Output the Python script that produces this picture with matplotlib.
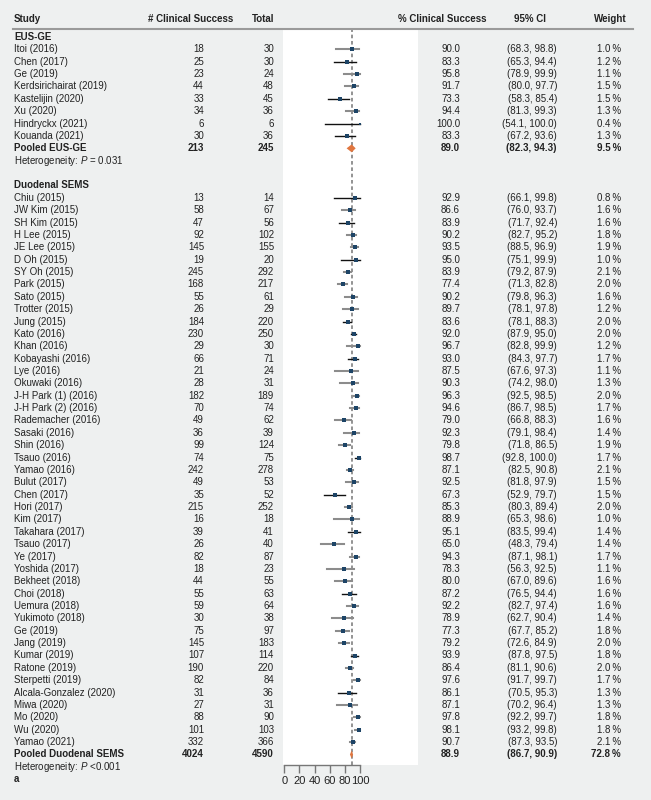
import numpy as np
import matplotlib
matplotlib.use("Agg")
import matplotlib.pyplot as plt

plt.rcParams['font.family'] = ['Liberation Sans', 'DejaVu Sans']
plt.rcParams['mathtext.fontset'] = 'custom'
plt.rcParams['mathtext.rm'] = 'Liberation Sans'
plt.rcParams['mathtext.it'] = 'Liberation Sans:italic'

# ── Data ─────────────────────────────────────────────────────
eus_study = ["Itoi (2016)", "Chen (2017)", "Ge (2019)", "Kerdsirichairat (2019)",
             "Kastelijin (2020)", "Xu (2020)", "Hindryckx (2021)", "Kouanda (2021)"]
eus_success = [18, 25, 23, 44, 33, 34, 6, 30]
eus_total = [30, 30, 24, 48, 45, 36, 6, 36]
eus_pct = [90.0, 83.3, 95.8, 91.7, 73.3, 94.4, 100.0, 83.3]
eus_lo = [68.3, 65.3, 78.9, 80.0, 58.3, 81.3, 54.1, 67.2]
eus_hi = [98.8, 94.4, 99.9, 97.7, 85.4, 99.3, 100.0, 93.6]
eus_weight = [1.0, 1.2, 1.1, 1.5, 1.5, 1.3, 0.4, 1.3]
eus_pooled = (213, 245, 89.0, 82.3, 94.3, 9.5)
eus_het = "Heterogeneity: $P$ = 0.031"

sems_study = ["Chiu (2015)", "JW Kim (2015)", "SH Kim (2015)", "H Lee (2015)", "JE Lee (2015)",
              "D Oh (2015)", "SY Oh (2015)", "Park (2015)", "Sato (2015)", "Trotter (2015)",
              "Jung (2015)", "Kato (2016)", "Khan (2016)", "Kobayashi (2016)", "Lye (2016)",
              "Okuwaki (2016)", "J-H Park (1) (2016)", "J-H Park (2) (2016)", "Rademacher (2016)",
              "Sasaki (2016)", "Shin (2016)", "Tsauo (2016)", "Yamao (2016)", "Bulut (2017)",
              "Chen (2017)", "Hori (2017)", "Kim (2017)", "Takahara (2017)", "Tsauo (2017)",
              "Ye (2017)", "Yoshida (2017)", "Bekheet (2018)", "Choi (2018)", "Uemura (2018)",
              "Yukimoto (2018)", "Ge (2019)", "Jang (2019)", "Kumar (2019)", "Ratone (2019)",
              "Sterpetti (2019)", "Alcala-Gonzalez (2020)", "Miwa (2020)", "Mo (2020)",
              "Wu (2020)", "Yamao (2021)"]
sems_success = [13, 58, 47, 92, 145, 19, 245, 168, 55, 26, 184, 230, 29, 66, 21, 28, 182, 70, 49,
                36, 99, 74, 242, 49, 35, 215, 16, 39, 26, 82, 18, 44, 55, 59, 30, 75, 145, 107,
                190, 82, 31, 27, 88, 101, 332]
sems_total = [14, 67, 56, 102, 155, 20, 292, 217, 61, 29, 220, 250, 30, 71, 24, 31, 189, 74, 62,
              39, 124, 75, 278, 53, 52, 252, 18, 41, 40, 87, 23, 55, 63, 64, 38, 97, 183, 114,
              220, 84, 36, 31, 90, 103, 366]
sems_pct = [92.9, 86.6, 83.9, 90.2, 93.5, 95.0, 83.9, 77.4, 90.2, 89.7, 83.6, 92.0, 96.7, 93.0,
            87.5, 90.3, 96.3, 94.6, 79.0, 92.3, 79.8, 98.7, 87.1, 92.5, 67.3, 85.3, 88.9, 95.1,
            65.0, 94.3, 78.3, 80.0, 87.2, 92.2, 78.9, 77.3, 79.2, 93.9, 86.4, 97.6, 86.1, 87.1,
            97.8, 98.1, 90.7]
sems_lo = [66.1, 76.0, 71.7, 82.7, 88.5, 75.1, 79.2, 71.3, 79.8, 78.1, 78.1, 87.9, 82.8, 84.3,
           67.6, 74.2, 92.5, 86.7, 66.8, 79.1, 71.8, 92.8, 82.5, 81.8, 52.9, 80.3, 65.3, 83.5,
           48.3, 87.1, 56.3, 67.0, 76.5, 82.7, 62.7, 67.7, 72.6, 87.8, 81.1, 91.7, 70.5, 70.2,
           92.2, 93.2, 87.3]
sems_hi = [99.8, 93.7, 92.4, 95.2, 96.9, 99.9, 87.9, 82.8, 96.3, 97.8, 88.3, 95.0, 99.9, 97.7,
           97.3, 98.0, 98.5, 98.5, 88.3, 98.4, 86.5, 100.0, 90.8, 97.9, 79.7, 89.4, 98.6, 99.4,
           79.4, 98.1, 92.5, 89.6, 94.4, 97.4, 90.4, 85.2, 84.9, 97.5, 90.6, 99.7, 95.3, 96.4,
           99.7, 99.8, 93.5]
sems_weight = [0.8, 1.6, 1.6, 1.8, 1.9, 1.0, 2.1, 2.0, 1.6, 1.2, 2.0, 2.0, 1.2, 1.7, 1.1, 1.3,
               2.0, 1.7, 1.6, 1.4, 1.9, 1.7, 2.1, 1.5, 1.5, 2.0, 1.0, 1.4, 1.4, 1.7, 1.1, 1.6,
               1.6, 1.6, 1.4, 1.8, 2.0, 1.8, 2.0, 1.7, 1.3, 1.3, 1.8, 1.8, 2.1]
sems_pooled = (4024, 4590, 88.9, 86.7, 90.9, 72.8)
sems_het = "Heterogeneity: $P$ <0.001"

ref_line = 88.9
ticks = [0, 20, 40, 60, 80, 100]

# CI lines drawn in black for these studies, the rest grey
dark_eus = {"Chen (2017)", "Kastelijin (2020)", "Hindryckx (2021)", "Kouanda (2021)"}
dark_sems = {"Chiu (2015)", "SH Kim (2015)", "D Oh (2015)", "Jung (2015)", "Kato (2016)",
             "Kobayashi (2016)", "Tsauo (2016)", "Chen (2017)", "Takahara (2017)",
             "Choi (2018)", "Kumar (2019)", "Alcala-Gonzalez (2020)"}

# ── Layout (pixels / row units) ─────────────────────────────
W, H = 651, 800
ROW0, DY = 37.0, 12.37          # pixel y of row 0 and row pitch
BG = "#eef0f0"
TXT = "#222222"
FS = 7.0
X_STUDY, X_SUCC, X_TOT, X_PCT, X_CI, X_WT = 14, 204, 274, 460, 557, 621


def row_of(py):
    return (py - ROW0) / DY


fig = plt.figure(figsize=(W / 100, H / 100), dpi=100, facecolor=BG)

# forest panel
px_left, px_right, px_top, px_bot = 283, 418, 29, 765
x0_px, x100_px = 284.3, 360.0
scale = (x100_px - x0_px) / 100
ax = fig.add_axes([px_left / W, 1 - px_bot / H, (px_right - px_left) / W, (px_bot - px_top) / H])
ax.set_facecolor("white")
ax.set_xlim((px_left - x0_px) / scale, (px_right - x0_px) / scale)
ax.set_ylim(row_of(px_bot), row_of(px_top))
for s in ["top", "right", "left"]:
    ax.spines[s].set_visible(False)
ax.spines["bottom"].set_bounds(0, 100)
ax.spines["bottom"].set_color("#777777")
ax.spines["bottom"].set_linewidth(1.0)
ax.set_yticks([])
ax.set_xticks(ticks)
ax.tick_params(axis="x", direction="out", length=6, width=1.0, color="#777777",
               labelsize=8, labelcolor=TXT, pad=2)

ax.axvline(ref_line, color="#8a8a8a", linestyle=(0, (2, 1.5)), linewidth=1.3, zorder=1)

# text layer
tx = fig.add_axes([0, 0, 1, 1], facecolor="none")
tx.set_xlim(0, W)
tx.set_ylim(row_of(H), row_of(0))
tx.axis("off")


def put(x, r, s, ha="left", bold=False):
    tx.text(x, r, s, ha=ha, va="center", fontsize=FS, color=TXT,
            fontweight="bold" if bold else "normal")


# header
hr = row_of(19.5)
put(X_STUDY, hr, "Study", bold=True)
put(233, hr, "# Clinical Success", ha="right", bold=True)
put(X_TOT, hr, "Total", ha="right", bold=True)
put(486, hr, "% Clinical Success", ha="right", bold=True)
put(529.5, hr, "95% CI", ha="center", bold=True)
put(627, hr, "Weight", ha="right", bold=True)
tx.plot([13, 633], [row_of(28.5)] * 2, color="#9a9a9a", linewidth=1.5)


def draw_group(r0, title, study, succ, tot, pct, lo, hi, wt, pooled, het, dark):
    put(X_STUDY, r0, title, bold=True)
    for i, name in enumerate(study):
        r = r0 + 1 + i
        put(X_STUDY, r, name)
        put(X_SUCC, r, str(succ[i]), ha="right")
        put(X_TOT, r, str(tot[i]), ha="right")
        put(X_PCT, r, f"{pct[i]:.1f}", ha="right")
        put(X_CI, r, f"({lo[i]:.1f}, {hi[i]:.1f})", ha="right")
        put(X_WT, r, f"{wt[i]:.1f}\u2009%", ha="right")
        if name in dark:
            ax.plot([lo[i], hi[i]], [r, r], color="#111111", linewidth=1.0, zorder=2)
        else:
            ax.plot([lo[i], hi[i]], [r, r], color="#8c8c8c", linewidth=1.5, zorder=2)
        ax.plot(pct[i], r, marker="s", color="#1d4466", markersize=1.3 + 1.0 * np.sqrt(wt[i]),
                markeredgewidth=0, zorder=3)
    rp = r0 + 1 + len(study)
    ps, pt, pp, plo, phi, pw = pooled
    put(X_STUDY, rp, f"Pooled {title}", bold=True)
    put(X_SUCC, rp, str(ps), ha="right", bold=True)
    put(X_TOT, rp, str(pt), ha="right", bold=True)
    put(X_PCT, rp, f"{pp:.1f}", ha="right", bold=True)
    put(X_CI, rp, f"({plo:.1f}, {phi:.1f})", ha="right", bold=True)
    put(X_WT, rp, f"{pw:.1f}\u2009%", ha="right", bold=True)
    ax.fill([plo, pp, phi, pp], [rp, rp - 0.32, rp, rp + 0.32], color="#e0763f",
            linewidth=0, zorder=4)
    put(X_STUDY, rp + 1, het)
    return rp + 1


end = draw_group(0, "EUS-GE", eus_study, eus_success, eus_total, eus_pct, eus_lo, eus_hi,
                 eus_weight, eus_pooled, eus_het, dark_eus)
end = draw_group(end + 2, "Duodenal SEMS", sems_study, sems_success, sems_total, sems_pct,
                 sems_lo, sems_hi, sems_weight, sems_pooled, sems_het, dark_sems)
put(X_STUDY, end + 1, "a", bold=True)

plt.savefig("out.png", dpi=100, facecolor=BG)
